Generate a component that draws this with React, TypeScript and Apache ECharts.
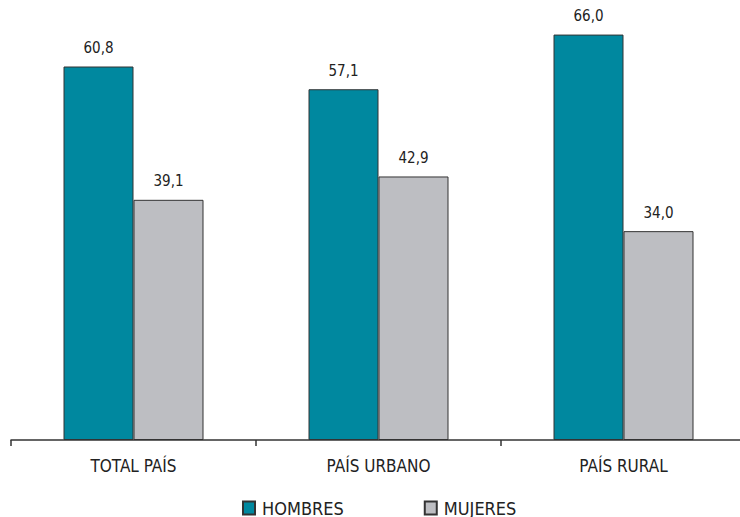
import React, { useEffect, useRef } from "react";
import * as echarts from "echarts";

const categories = ["TOTAL PAÍS", "PAÍS URBANO", "PAÍS RURAL"];
const hombres = [60.8, 57.1, 66.0];
const mujeres = [39.1, 42.9, 34.0];
const seriesNames = ["HOMBRES", "MUJERES"];

const FONT = "'DejaVu Sans Condensed', 'DejaVu Sans', sans-serif";

export default function App() {
  const ref = useRef<HTMLDivElement>(null);
  useEffect(() => {
    if (!ref.current) return;
    const chart = echarts.init(ref.current, undefined, { renderer: "svg" });
    const fmt = (p: any) => Number(p.value).toFixed(1).replace(".", ",");
    const label = {
      show: true,
      position: "top" as const,
      distance: 11,
      formatter: fmt,
      color: "#222",
      fontSize: 15,
      fontFamily: FONT,
    };
    chart.setOption({
      animation: false,
      backgroundColor: "#ffffff",
      grid: { left: 11, right: 14, top: 10, bottom: 77 },
      legend: {
        data: seriesNames,
        left: 242,
        top: 499,
        padding: 0,
        itemWidth: 12,
        itemHeight: 13,
        itemGap: 80,
        icon: "rect",
        textStyle: {
          fontSize: 18,
          lineHeight: 14,
          color: "#222",
          fontFamily: FONT,
          padding: [0, 0, 0, 2],
        },
      },
      xAxis: {
        type: "category",
        data: categories,
        axisLine: { lineStyle: { color: "#333", width: 1.5 } },
        axisTick: { show: true, length: 6, lineStyle: { color: "#333", width: 1.5 } },
        axisLabel: { fontSize: 17, color: "#222", fontFamily: FONT, margin: 17 },
      },
      yAxis: {
        type: "value",
        min: 0,
        max: 70,
        show: false,
        splitLine: { show: false },
      },
      series: [
        {
          name: seriesNames[0],
          type: "bar",
          data: hombres,
          barWidth: 70,
          barGap: "0%",
          itemStyle: { color: "#00889F", borderColor: "#333", borderWidth: 1 },
          label,
        },
        {
          name: seriesNames[1],
          type: "bar",
          data: mujeres,
          barWidth: 70,
          itemStyle: { color: "#BDBEC2", borderColor: "#333", borderWidth: 1 },
          label,
        },
      ],
    });
    return () => chart.dispose();
  }, []);
  return (
    <div
      style={{
        position: "absolute",
        left: 0,
        top: 0,
        width: 740,
        height: 517,
        overflow: "hidden",
      }}
    >
      <div ref={ref} style={{ width: 760, height: 517 }} />
    </div>
  );
}
